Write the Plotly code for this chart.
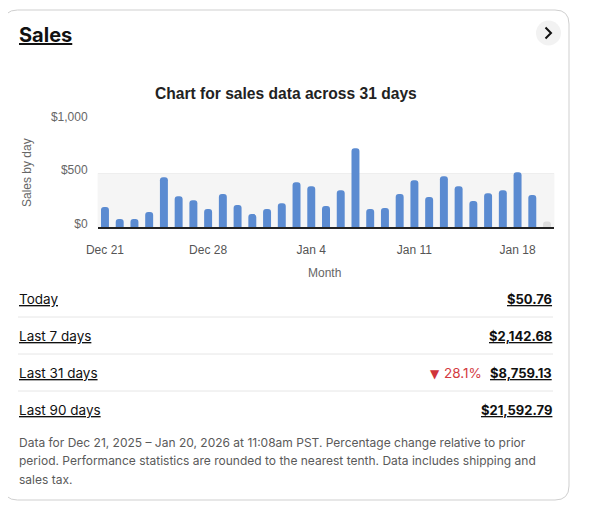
import plotly.graph_objects as go

W, H = 593, 514
PAGE_OFFSET = 8  # default body margin of the html page

days = [
    "Dec 21", "Dec 22", "Dec 23", "Dec 24", "Dec 25", "Dec 26", "Dec 27",
    "Dec 28", "Dec 29", "Dec 30", "Dec 31", "Jan 1", "Jan 2", "Jan 3",
    "Jan 4", "Jan 5", "Jan 6", "Jan 7", "Jan 8", "Jan 9", "Jan 10",
    "Jan 11", "Jan 12", "Jan 13", "Jan 14", "Jan 15", "Jan 16", "Jan 17",
    "Jan 18", "Jan 19", "Jan 20",
]
sales = [
    185, 74, 74, 139, 463, 287, 250, 167, 306, 204, 120, 167, 222, 417,
    380, 195, 343, 732, 167, 176, 306, 436, 278, 473, 380, 241, 315, 343,
    510, 297, 51,
]
tick_days = ["Dec 21", "Dec 28", "Jan 4", "Jan 11", "Jan 18"]
y_ticks = [0, 500, 1000]
y_tick_text = ["$0", "$500", "$1,000"]

row_labels = ["Today", "Last 7 days", "Last 31 days", "Last 90 days"]
row_values = ["$50.76", "$2,142.68", "$8,759.13", "$21,592.79"]
pct_change = "28.1%"
footnote = [
    "Data for Dec 21, 2025 – Jan 20, 2026 at 11:08am PST. Percentage change relative to prior",
    "period. Performance statistics are rounded to the nearest tenth. Data includes shipping and",
    "sales tax.",
]

UI_FONT = "Inter, Noto Sans, sans-serif"
CHART_FONT = "Liberation Sans, Arial, sans-serif"


def px(x):
    return (x - PAGE_OFFSET) / W


def py(y):
    return 1 - (y - PAGE_OFFSET) / H


def underline(text):
    return f"<span style='text-decoration:underline'>{text}</span>"


bar_colors = ["#5b8bd1"] * (len(sales) - 1) + ["#dddddd"]

fig = go.Figure(
    go.Bar(
        x=days,
        y=sales,
        marker={"color": bar_colors, "line": {"width": 0}},
        hoverinfo="x+y",
    )
)

fig.update_layout(
    width=W,
    height=H,
    margin={"l": 0, "r": 0, "t": 0, "b": 0, "autoexpand": False},
    paper_bgcolor="white",
    plot_bgcolor="rgba(0,0,0,0)",
    showlegend=False,
    bargap=0.46,
    barcornerradius=3,
    font={"family": UI_FONT, "color": "#111"},
    xaxis={
        "domain": [px(97.6), px(554.4)],
        "type": "category",
        "range": [-0.5, 30.5],
        "tickvals": tick_days,
        "automargin": False,
        "showgrid": False,
        "showline": True,
        "linecolor": "#222",
        "linewidth": 1.5,
        "ticks": "",
        "ticklabelstandoff": 11,
        "tickfont": {"family": CHART_FONT, "size": 12, "color": "#555"},
        "fixedrange": True,
    },
    yaxis={
        "domain": [py(227), py(119.5)],
        "range": [0, 1000],
        "tickvals": y_ticks,
        "ticktext": y_tick_text,
        "automargin": False,
        "showgrid": True,
        "gridcolor": "#eeeeee",
        "zeroline": False,
        "ticks": "",
        "ticklabelstandoff": 9,
        "ticklabelshift": -3,
        "tickfont": {"family": CHART_FONT, "size": 12, "color": "#666"},
        "fixedrange": True,
    },
)

shapes = []
# card outline with rounded corners
x0, x1, y0, y1, r = px(3.5), px(569), py(10), py(500), 14
rx, ry = r / W, r / H
card_path = (
    f"M {x0 + rx},{y0} L {x1 - rx},{y0} Q {x1},{y0} {x1},{y0 - ry} "
    f"L {x1},{y1 + ry} Q {x1},{y1} {x1 - rx},{y1} "
    f"L {x0 + rx},{y1} Q {x0},{y1} {x0},{y1 + ry} "
    f"L {x0},{y0 - ry} Q {x0},{y0} {x0 + rx},{y0} Z"
)
shapes.append(dict(type="path", xref="paper", yref="paper", path=card_path,
                   line={"color": "#cfcfcf", "width": 1}, layer="below"))
# grey band behind the 0-500 zone
shapes.append(dict(type="rect", xref="x domain", yref="y", x0=0, x1=1, y0=0, y1=500,
                   fillcolor="#f5f5f5", line={"width": 0}, layer="below"))
# circle button with chevron
shapes.append(dict(type="circle", xref="paper", yref="paper",
                   x0=px(536), x1=px(561), y0=py(45.5), y1=py(20.5),
                   fillcolor="#f2f2f2", line={"width": 0}))
shapes.append(dict(type="path", xref="paper", yref="paper",
                   path=f"M {px(545.5)},{py(27.5)} L {px(551)},{py(33)} L {px(545.5)},{py(38.5)}",
                   line={"color": "#111", "width": 2}))
# row separators
for sep_y in [317, 354, 391]:
    shapes.append(dict(type="line", xref="paper", yref="paper",
                       x0=px(18), x1=px(553), y0=py(sep_y), y1=py(sep_y),
                       line={"color": "#e6e6e6", "width": 1}))
fig.update_layout(shapes=shapes)

annotations = [
    dict(x=px(17), y=py(35), text=f"<b>{underline('Sales')}</b>", xanchor="left",
         font={"size": 20, "color": "#111", "family": UI_FONT}),
    dict(x=px(286), y=py(94), text="<b>Chart for sales data across 31 days</b>",
         xanchor="center", font={"size": 15.6, "color": "#222", "family": CHART_FONT}),
    dict(x=px(27), y=py(173), text="Sales by day", textangle=-90, xanchor="center",
         font={"size": 12, "color": "#666", "family": CHART_FONT}),
    dict(x=px(325), y=py(273), text="Month", xanchor="center",
         font={"size": 12, "color": "#666", "family": CHART_FONT}),
]
for i, (label, value) in enumerate(zip(row_labels, row_values)):
    row_y = py(299 + 37 * i)
    annotations.append(dict(x=px(17), y=row_y, text=underline(label), xanchor="left",
                            font={"size": 13.5, "color": "#111"}))
    annotations.append(dict(x=px(554), y=row_y, text=f"<b>{underline(value)}</b>",
                            xanchor="right", font={"size": 13, "color": "#111"}))
annotations.append(dict(x=px(484), y=py(373), text=pct_change, xanchor="right",
                        font={"size": 13.5, "color": "#d33a3f"}))
annotations.append(dict(x=px(434.5), y=py(373.5), text="▼", xanchor="center",
                        font={"size": 12, "color": "#d0343a", "family": "DejaVu Sans"}))
for i, line in enumerate(footnote):
    annotations.append(dict(x=px(17), y=py(442 + 18.5 * i), text=line, xanchor="left",
                            font={"size": 12, "color": "#5a5a5a"}))
for a in annotations:
    a.setdefault("xref", "paper")
    a.setdefault("yref", "paper")
    a.setdefault("yanchor", "middle")
    a.setdefault("showarrow", False)
fig.update_layout(annotations=annotations)

fig.write_html("out.html", config={"displayModeBar": False})
